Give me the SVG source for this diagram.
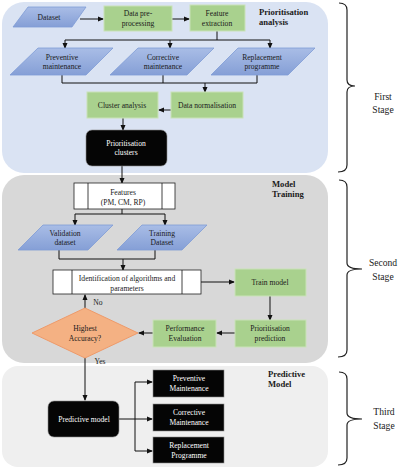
<svg xmlns="http://www.w3.org/2000/svg" width="400" height="470" viewBox="0 0 400 470">
<style>
text{font-family:"Liberation Serif","Times New Roman",serif;font-size:7.6px;text-anchor:middle;fill:#1a1a1a}
.w{fill:#ffffff}
.lbl{font-weight:bold;font-size:8.6px;text-anchor:start}
.stage{font-size:9.6px}
.para{fill:url(#bg);stroke:#7f9cd6;stroke-width:0.8}
.grn{fill:#a9d18e;stroke:#c9e2b8;stroke-width:1}
.blk{fill:#050505;stroke:#8a8a8a;stroke-width:0.6}
.proc{fill:#ffffff;stroke:#222;stroke-width:0.8}
.ln{fill:none;stroke:#111;stroke-width:1}
.ar{fill:none;stroke:#111;stroke-width:1;marker-end:url(#ah)}
.br{fill:none;stroke:#222;stroke-width:1.2}
</style>
<defs>
<linearGradient id="bg" x1="0" y1="0" x2="0" y2="1">
<stop offset="0" stop-color="#a9bde6"/>
<stop offset="1" stop-color="#859fd6"/>
</linearGradient>
<marker id="ah" markerWidth="6" markerHeight="6" refX="5" refY="3" orient="auto" markerUnits="userSpaceOnUse">
<path d="M0,0.5 L6,3 L0,5.5 Z" fill="#111"/>
</marker>
</defs>
<g id="panels">
<rect x="2" y="2" width="326" height="171" rx="22" fill="#dae3f3"/>
<rect x="2" y="175" width="326" height="188" rx="22" fill="#d8d8d8"/>
<rect x="2" y="366" width="326" height="101" rx="16" fill="#efefef"/>
<text class="lbl" x="259" y="15">Prioritisation</text>
<text class="lbl" x="259" y="25">analysis</text>
<text class="lbl" x="272" y="187">Model</text>
<text class="lbl" x="272" y="197">Training</text>
<text class="lbl" x="268" y="377">Predictive</text>
<text class="lbl" x="268" y="387">Model</text>
</g>
<g id="braces">
<path class="br" d="M339,3 Q347,3 347,10 L347,80 Q347,86 355,86 Q347,86 347,92 L347,165 Q347,172 338,172"/>
<path class="br" d="M339,180 Q347,180 347,187 L347,263 Q347,269 362,269 Q347,269 347,275 L347,350 Q347,357 338,357"/>
<path class="br" d="M339,372 Q347,372 347,379 L347,413 Q347,419 362,419 Q347,419 347,425 L347,458 Q347,465 338,465"/>
<text class="stage" x="383" y="100">First</text>
<text class="stage" x="383" y="113">Stage</text>
<text class="stage" x="383" y="266">Second</text>
<text class="stage" x="383" y="280">Stage</text>
<text class="stage" x="384" y="415">Third</text>
<text class="stage" x="384" y="429">Stage</text>
</g>
<g id="connectors">
<path class="ar" d="M80,19 L103,19"/>
<path class="ar" d="M172,19 L189,19"/>
<path class="ln" d="M217,31 L217,40 M65,40 L270,40"/>
<path class="ar" d="M65,40 L65,48"/>
<path class="ar" d="M170,40 L170,48"/>
<path class="ar" d="M270,40 L270,48"/>
<path class="ln" d="M62,75 L62,83 L257,83 L257,75 M163,75 L163,83"/>
<path class="ar" d="M205,83 L205,92"/>
<path class="ar" d="M171,110 L159,110"/>
<path class="ar" d="M123,118 L123,130"/>
<path class="ar" d="M122,166 L122,183"/>
<path class="ln" d="M122,209 L122,214 M75,214 L165,214"/>
<path class="ar" d="M75,214 L75,225"/>
<path class="ar" d="M165,214 L165,225"/>
<path class="ln" d="M59,250 L59,259 L155,259 L155,250"/>
<path class="ar" d="M123,259 L123,270"/>
<path class="ar" d="M201,282 L234,282"/>
<path class="ar" d="M270,296 L270,320"/>
<path class="ar" d="M235,333 L217,333"/>
<path class="ar" d="M153,333 L139,333"/>
<path class="ar" d="M85,308 L85,295"/>
<path class="ar" d="M85,358 L85,400"/>
<path class="ln" d="M119,419 L135,419 M135,382 L135,451"/>
<path class="ar" d="M135,382 L152,382"/>
<path class="ar" d="M135,419 L152,419"/>
<path class="ar" d="M135,451 L152,451"/>
<text x="98" y="305">No</text>
<text x="100" y="364">Yes</text>
</g>
<g id="dataset">
<polygon class="para" points="28,7 86,7 72,27 13,27"/>
<text x="49" y="20">Dataset</text>
</g>
<g id="preprocessing">
<rect class="grn" x="104" y="6" width="68" height="25"/>
<text x="138" y="16">Data pre-</text>
<text x="138" y="26">processing</text>
</g>
<g id="feature-extraction">
<rect class="grn" x="190" y="5" width="55" height="26"/>
<text x="217" y="16">Feature</text>
<text x="217" y="26">extraction</text>
</g>
<g id="preventive">
<polygon class="para" points="38,48 113,48 86,75 10,75"/>
<text x="62" y="60">Preventive</text>
<text x="62" y="69">maintenance</text>
</g>
<g id="corrective">
<polygon class="para" points="138,48 214,48 187,75 110,75"/>
<text x="163" y="60">Corrective</text>
<text x="163" y="69">maintenance</text>
</g>
<g id="replacement">
<polygon class="para" points="238,48 315,48 288,75 211,75"/>
<text x="262" y="60">Replacement</text>
<text x="262" y="69">programme</text>
</g>
<g id="cluster-analysis">
<rect class="grn" x="87" y="92" width="71" height="26"/>
<text x="122" y="108">Cluster analysis</text>
</g>
<g id="data-normalisation">
<rect class="grn" x="171" y="92" width="72" height="26"/>
<text x="207" y="108">Data normalisation</text>
</g>
<g id="prioritisation-clusters">
<rect class="blk" x="86" y="130" width="81" height="36" rx="6"/>
<text class="w" x="126" y="146">Prioritisation</text>
<text class="w" x="126" y="155">clusters</text>
</g>
<g id="features">
<rect class="proc" x="74" y="183" width="101" height="26"/>
<path class="ln" d="M88,183 L88,209 M162,183 L162,209" style="stroke-width:0.8"/>
<text x="123" y="195">Features</text>
<text x="123" y="205">(PM, CM, RP)</text>
</g>
<g id="validation">
<polygon class="para" points="43,225 113,225 88,250 18,250"/>
<text x="65" y="236">Validation</text>
<text x="65" y="245">dataset</text>
</g>
<g id="training">
<polygon class="para" points="142,225 207,225 182,250 117,250"/>
<text x="162" y="236">Training</text>
<text x="162" y="245">Dataset</text>
</g>
<g id="identification">
<rect class="proc" x="53" y="270" width="148" height="24"/>
<path class="ln" d="M72,270 L72,294 M182,270 L182,294" style="stroke-width:0.8"/>
<text x="127" y="281">Identification of algorithms and</text>
<text x="127" y="291">parameters</text>
</g>
<g id="train-model">
<rect class="grn" x="235" y="269" width="71" height="27"/>
<text x="270" y="285">Train model</text>
</g>
<g id="prioritisation-prediction">
<rect class="grn" x="235" y="320" width="71" height="27"/>
<text x="270" y="331">Prioritisation</text>
<text x="270" y="341">prediction</text>
</g>
<g id="performance-evaluation">
<rect class="grn" x="153" y="320" width="63" height="27"/>
<text x="185" y="331">Performance</text>
<text x="185" y="341">Evaluation</text>
</g>
<g id="highest-accuracy">
<polygon points="85,308 138,333 85,358 32,333" fill="#f4b183" stroke="#ee9a6a" stroke-width="1"/>
<text x="85" y="331">Highest</text>
<text x="85" y="341">Accuracy?</text>
</g>
<g id="predictive-model">
<rect class="blk" x="48" y="401" width="71" height="36" rx="6"/>
<text class="w" x="84" y="422">Predictive model</text>
</g>
<g id="out-preventive">
<rect class="blk" x="153" y="370" width="71" height="27"/>
<text class="w" x="189" y="381">Preventive</text>
<text class="w" x="189" y="391">Maintenance</text>
</g>
<g id="out-corrective">
<rect class="blk" x="153" y="404" width="71" height="27"/>
<text class="w" x="189" y="415">Corrective</text>
<text class="w" x="189" y="425">Maintenance</text>
</g>
<g id="out-replacement">
<rect class="blk" x="153" y="437" width="71" height="26"/>
<text class="w" x="189" y="448">Replacement</text>
<text class="w" x="189" y="458">Programme</text>
</g>
</svg>
